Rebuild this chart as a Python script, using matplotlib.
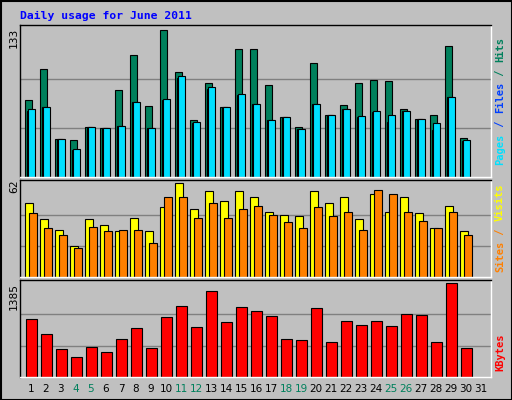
import matplotlib
matplotlib.use("Agg")
import matplotlib.pyplot as plt
import numpy as np

days = list(range(1, 32))
hits = [69.8,97.8,34.6,33.7,45.4,44.5,78.8,110.4,64.1,133,95,51.8,85.2,63.5,115.9,115.9,83.4,54.5,45.4,103.2,56.3,65.3,85.2,87.9,87,61.7,52.7,56.3,118.5,35.5]
files = [59.9,63.5,34.6,24.7,45.4,44.5,46.3,68,44.5,69.8,89.7,49,79.7,63.5,74.3,66.2,51.8,54.5,43.6,66.2,56.3,61.7,54.5,59,50,59.9,52.7,42.7,72.5,32.8]
pages = [61.7,63.5,34.6,25.6,45.4,44.5,46.3,68,44.5,70.7,91.5,50,81.5,63.5,75.2,66.2,51.8,54.5,43.6,66.2,56.3,61.7,55.4,59.9,56.3,59.9,52.7,49,72.5,33.7]
sites = [49.2,38.4,31,20.2,38.4,34.4,30.3,39.1,30.3,46.5,62,45.1,56.6,50.5,56.6,52.6,43.1,41.1,40.4,56.6,49.2,53.2,38.4,54.6,43.1,52.6,42.4,32.3,47.2,30.3]
visits = [42.4,32.3,27.6,19.5,33,30.3,31,31,22.2,53.2,52.6,39.1,49.2,39.1,45.1,47.2,41.1,36.4,32.3,46.5,40.4,43.1,31,57.3,54.6,43.1,37.1,32.3,43.1,27.6]
kbytes = [854,627,415,293,445,369,566,718,430,885,1051,733,1264,809,1036,976,900,566,551,1021,521,824,763,824,748,930,915,521,1385,430]
weekend = [4,5,11,12,18,19,25,26]

W, H = 512, 400
fig = plt.figure(figsize=(5.12, 4.0), dpi=100)
fig.patch.set_facecolor("#C0C0C0")
fig.add_artist(plt.Rectangle((0.5/W, 0.5/H), 1-1/W, 1-1/H, transform=fig.transFigure, fill=False, ec="black", lw=1.5))

def ax_px(x0, y0, x1, y1):
    return fig.add_axes([x0/W, 1-y1/H, (x1-x0)/W, (y1-y0)/H])

x = np.arange(1, 31)
xlim = (0.27, 31.67)

def style(ax, ymax, top):
    ax.set_facecolor("#C0C0C0")
    ax.set_xlim(*xlim)
    ax.set_ylim(0, top)
    for g in (ymax/3, 2*ymax/3):
        ax.axhline(g, color="#808080", lw=1, zorder=0)
    ax.set_xticks([]); ax.set_yticks([])
    for s in ("top", "left"):
        ax.spines[s].set_color("black")
    for s in ("bottom", "right"):
        ax.spines[s].set_color("white")
    for s in ax.spines.values():
        s.set_linewidth(1)

kw = dict(align="edge", edgecolor="black", linewidth=0.8)
a1 = ax_px(20, 25, 491, 177)
style(a1, 133, 133*1.035)
a1.bar(x-0.38, hits, 0.47, color="#00805C", **kw)
a1.bar(x-0.27, files, 0.47, color="#0040FF", **kw)
a1.bar(x-0.2, pages, 0.47, color="#00E0FF", **kw)

a2 = ax_px(20, 180, 491, 277)
style(a2, 62, 62*1.035)
a2.bar(x-0.38, sites, 0.5, color="#FFFF00", **kw)
a2.bar(x-0.11, visits, 0.5, color="#FF8000", **kw)

a3 = ax_px(20, 280, 491, 377)
style(a3, 1385, 1385*1.03)
a3.bar(x-0.31, kbytes, 0.69, color="#FF0000", **kw)

fig.text(20/W, 1-16/H, "Daily usage for June 2011", color="#0000FF", fontsize=8.2,
         family="DejaVu Sans Mono", fontweight="bold", va="center")
for yy, lab in ((38, "133"), (186, "62"), (296, "1385")):
    fig.text(14/W, 1-yy/H, lab, rotation=90, fontsize=8, va="center", ha="center", family="DejaVu Sans Mono")

def vlabel(yc, parts):
    tot = sum(len(p[0]) for p in parts)
    ch = 6.4
    y = yc + tot*ch/2
    for txt, col in parts:
        yl = y - len(txt)*ch/2
        fig.text(500/W, 1-yl/H, txt, rotation=90, color=col, fontsize=7.5, family="DejaVu Sans Mono",
                 fontweight="bold", va="center", ha="center")
        y -= len(txt)*ch

vlabel(101, [("Pages", "#00E0FF"), (" / ", "#0040FF"), ("Files", "#0040FF"), (" / ", "#00805C"), ("Hits", "#00805C")])
vlabel(228, [("Sites", "#FF8000"), (" / ", "#FF8000"), ("Visits", "#FFFF00")])
vlabel(352, [("KBytes", "#FF0000")])

for d in days:
    xp = 20 + (d - xlim[0]) / (xlim[1]-xlim[0]) * 471
    fig.text(xp/W, 1-389/H, str(d), ha="center", va="center", fontsize=7.5,
             color="#00805C" if d in weekend else "black")

fig.savefig("out.png", dpi=100, facecolor=fig.get_facecolor())
